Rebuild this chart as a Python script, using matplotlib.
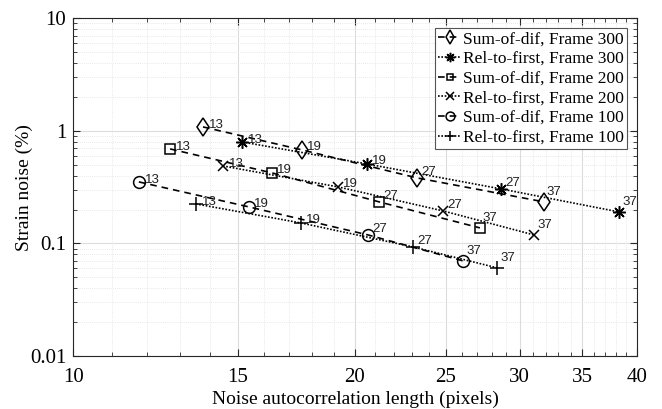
import matplotlib
matplotlib.use("Agg")
import matplotlib.pyplot as plt
from matplotlib.ticker import FixedLocator, NullFormatter, FixedFormatter

plt.rcParams['font.family'] = ['Liberation Serif', 'DejaVu Serif']

# point labels (same for every series)
point_labels = ['13', '19', '27', '37']

# noise autocorrelation length (pixels) per series
x_sod_300 = [13.76, 17.56, 23.30, 31.84]
x_rtf_300 = [15.15, 20.60, 28.65, 38.30]
x_sod_200 = [12.69, 16.31, 21.22, 27.20]
x_rtf_200 = [14.45, 19.18, 24.84, 31.07]
x_sod_100 = [11.75, 15.41, 20.65, 26.09]
x_rtf_100 = [13.52, 17.51, 23.07, 28.37]

# strain noise (%) per series
y_sod_300 = [1.084, 0.677, 0.382, 0.234]
y_rtf_300 = [0.797, 0.508, 0.305, 0.1905]
y_sod_200 = [0.691, 0.423, 0.234, 0.1374]
y_rtf_200 = [0.488, 0.318, 0.1945, 0.119]
y_sod_100 = [0.352, 0.211, 0.119, 0.070]
y_rtf_100 = [0.2244, 0.152, 0.0931, 0.0607]

series_names = ['Sum-of-dif, Frame 300', 'Rel-to-first, Frame 300',
                'Sum-of-dif, Frame 200', 'Rel-to-first, Frame 200',
                'Sum-of-dif, Frame 100', 'Rel-to-first, Frame 100']

xs = [x_sod_300, x_rtf_300, x_sod_200, x_rtf_200, x_sod_100, x_rtf_100]
ys = [y_sod_300, y_rtf_300, y_sod_200, y_rtf_200, y_sod_100, y_rtf_100]

# style per series
markers = ['d', (8, 2, 0), 's', 'x', 'o', '+']
msizes = [9.5, 9, 6.5, 7.5, 8.5, 10]
lstyles = [(0, (4, 3)), (0, (1, 1)), (0, (4, 3)), (0, (1, 1)), (0, (4, 3)), (0, (1, 1))]
# label offsets in pixels for each point index
label_offsets = [(6, 2), (5, 3), (4, 6), (3, 10)]

fig = plt.figure(figsize=(6.62, 4.09), dpi=100)
ax = fig.add_axes([0.1107, 0.1296, 0.851, 0.8257])

for x, y, name, m, ms, ls in zip(xs, ys, series_names, markers, msizes, lstyles):
    ax.plot(x, y, color='black', linestyle=ls, linewidth=1.2, marker=m,
            markersize=ms, markerfacecolor='none', markeredgecolor='black',
            markeredgewidth=1.1, label=name)
    for i, (xi, yi) in enumerate(zip(x, y)):
        dx, dy = label_offsets[i]
        ax.annotate(point_labels[i], (xi, yi), xytext=(dx * 0.72, dy * 0.72),
                    textcoords='offset points', ha='left', va='center',
                    fontsize=9.5, family=['Liberation Sans', 'DejaVu Sans'],
                    color='#222222')

ax.set_xscale('log')
ax.set_yscale('log')
ax.set_xlim(10, 40)
ax.set_ylim(0.01, 10)

xticks = [10, 15, 20, 25, 30, 35, 40]
ax.xaxis.set_major_locator(FixedLocator(xticks))
ax.xaxis.set_major_formatter(FixedFormatter([str(t) for t in xticks]))
ax.xaxis.set_minor_locator(FixedLocator([v for v in range(11, 40) if v not in xticks]))
ax.xaxis.set_minor_formatter(NullFormatter())

yticks = [0.01, 0.1, 1, 10]
ax.yaxis.set_major_locator(FixedLocator(yticks))
ax.yaxis.set_major_formatter(FixedFormatter(['0.01', '0.1', '1', '10']))

ax.grid(True, which='major', color='#dcdcdc', linestyle='-', linewidth=0.8)
ax.grid(True, which='minor', color='#e2e2e2', linestyle=(0, (1, 1.5)), linewidth=0.6)
ax.set_axisbelow(True)

ax.tick_params(which='both', direction='in', top=True, right=True,
               colors='#262626', labelcolor='black', labelsize=15)
ax.tick_params(which='major', length=5, width=0.8)
ax.tick_params(which='minor', length=3, width=0.6)
ax.tick_params(axis='x', pad=9)
ax.tick_params(axis='y', pad=5)
for sp in ax.spines.values():
    sp.set_color('#262626')
    sp.set_linewidth(0.8)

ax.set_xlabel('Noise autocorrelation length (pixels)', fontsize=14, labelpad=2)
ax.set_ylabel('Strain noise (%)', fontsize=14, labelpad=-2)

leg = ax.legend(loc='upper right', fontsize=12.5, fancybox=False, framealpha=1,
                edgecolor='#555555', handlelength=1.3, handletextpad=0.1,
                labelspacing=0.2, borderpad=0.2, borderaxespad=0.55,
                markerscale=0.75)
leg.get_frame().set_linewidth(0.8)

fig.savefig('out.png', dpi=100)
